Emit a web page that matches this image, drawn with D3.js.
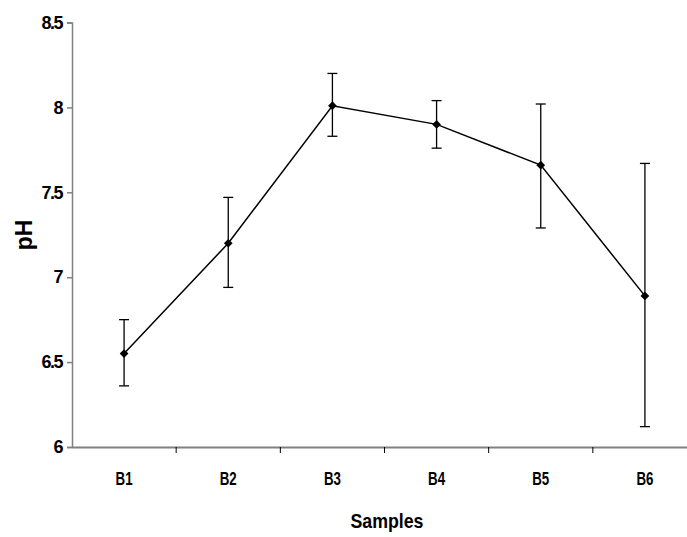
<!DOCTYPE html>
<html>
<head>
<meta charset="utf-8">
<script src="https://cdn.jsdelivr.net/npm/d3@7"></script>
<style>
  body { margin: 0; background: #fff; }
  text { font-family: "Liberation Sans", Arial, sans-serif; font-weight: bold; }
</style>
</head>
<body>
<div id="myChart"></div>
<script>
// Chart data
const samples = ["B1", "B2", "B3", "B4", "B5", "B6"];
const phMean = [6.55, 7.20, 8.01, 7.90, 7.66, 6.89];
const phHigh = [6.75, 7.47, 8.20, 8.04, 8.02, 7.67];
const phLow = [6.36, 6.94, 7.83, 7.76, 7.29, 6.12];
const yTicks = [6, 6.5, 7, 7.5, 8, 8.5];

const w = 687;
const h = 537;

const svg = d3.select("#myChart")
  .append("svg")
    .attr("width", w)
    .attr("height", h);

// Scales
const xScale = d3.scaleBand()
  .domain(samples)
  .range([72, 697]);

const yScale = d3.scaleLinear()
  .domain([6, 8.5])
  .range([447, 22.5]);

const data = samples.map((s, i) => ({s, m: phMean[i], hi: phHigh[i], lo: phLow[i]}));
const cx = d => xScale(d.s) + xScale.bandwidth() / 2;

// Y axis
const yAxis = svg.append("g")
  .attr("transform", "translate(72,0)")
  .call(d3.axisLeft(yScale).tickValues(yTicks).tickSize(5).tickPadding(5)
    .tickFormat(d => d3.format("")(d)));
yAxis.select(".domain").attr("stroke", "#808080").attr("stroke-width", 1.5);
yAxis.selectAll(".tick line").attr("stroke", "#808080").attr("stroke-width", 1.5);
yAxis.selectAll(".tick text")
  .attr("fill", "#000")
  .style("font-size", "18px")
  .style("letter-spacing", "-1.5px");

// X axis
const xAxis = svg.append("g")
  .attr("transform", "translate(0,447)")
  .call(d3.axisBottom(xScale).tickSize(0));
xAxis.select(".domain").attr("stroke", "#808080").attr("stroke-width", 2);
xAxis.selectAll(".tick text")
  .attr("fill", "#000")
  .attr("y", 38)
  .attr("dy", 0)
  .attr("textLength", 17)
  .attr("lengthAdjust", "spacingAndGlyphs")
  .style("font-size", "18px");

// x ticks between categories
xAxis.selectAll(".sep")
  .data(samples.slice(1))
  .enter()
  .append("line")
    .attr("x1", d => xScale(d))
    .attr("x2", d => xScale(d))
    .attr("y1", 0)
    .attr("y2", 6)
    .attr("stroke", "#000")
    .attr("stroke-width", 1);

// Axis titles
svg.append("text")
  .attr("x", 387)
  .attr("y", 528)
  .attr("text-anchor", "middle")
  .attr("textLength", 73)
  .attr("lengthAdjust", "spacingAndGlyphs")
  .style("font-size", "21px")
  .text("Samples");

svg.append("text")
  .attr("transform", "translate(32,235) rotate(-90)")
  .attr("text-anchor", "middle")
  .style("font-size", "23px")
  .text("pH");

// Error bars
const err = svg.append("g").attr("stroke", "#000").attr("stroke-width", 1.3);
err.selectAll(".v")
  .data(data)
  .enter()
  .append("line")
    .attr("x1", cx).attr("x2", cx)
    .attr("y1", d => yScale(d.hi))
    .attr("y2", d => yScale(d.lo));
["hi", "lo"].forEach(k => {
  err.selectAll(".cap-" + k)
    .data(data)
    .enter()
    .append("line")
      .attr("x1", d => cx(d) - 5).attr("x2", d => cx(d) + 5)
      .attr("y1", d => yScale(d[k]))
      .attr("y2", d => yScale(d[k]));
});

// Line
const line = d3.line()
  .x(cx)
  .y(d => yScale(d.m));

svg.append("path")
  .datum(data)
  .attr("fill", "none")
  .attr("stroke", "#000")
  .attr("stroke-width", 1.5)
  .attr("d", line);

// Diamond markers
svg.selectAll(".marker")
  .data(data)
  .enter()
  .append("path")
    .attr("transform", d => `translate(${cx(d)},${yScale(d.m)}) rotate(45)`)
    .attr("d", d3.symbol().type(d3.symbolSquare).size(38))
    .attr("fill", "#000");
</script>
</body>
</html>
